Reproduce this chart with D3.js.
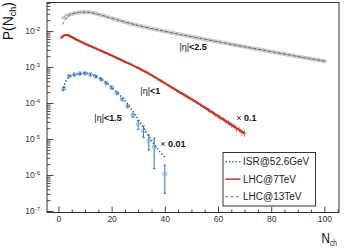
<!DOCTYPE html>
<meta charset="utf-8">
<style>
body{margin:0;background:#fff}
svg{display:block;font-family:"Liberation Sans",Arial,Helvetica,sans-serif}
</style>
<svg width="344" height="249"></svg>
<script src="https://d3js.org/d3.v7.min.js"></script>
<script>
// tick values
const xTicks = [0, 20, 40, 60, 80, 100];
const yTicks = [1e-7, 1e-6, 1e-5, 1e-4, 1e-3, 1e-2];
const legendLabels = ["ISR@52.6GeV", "LHC@7TeV", "LHC@13TeV"];

// ISR @ 52.6 GeV, |eta|<1.5, scaled x 0.01
const isrN = [2, 4, 6, 8, 10, 12, 14, 16, 18, 20, 22, 24, 26, 28, 30, 32, 34, 36, 40];
const isrP = [2.54e-4, 5.58e-4, 6.14e-4, 6.55e-4, 6.64e-4, 6.22e-4, 5.47e-4, 4.54e-4, 3.56e-4, 2.67e-4,
              1.88e-4, 1.28e-4, 8.15e-5, 4.57e-5, 2.56e-5, 1.69e-5, 8.9e-6, 6.0e-6, 1.09e-6];
const isrErr = [1.5e-5, 3e-5, 3e-5, 3e-5, 3e-5, 3e-5, 2.5e-5, 2e-5, 2e-5, 1.5e-5,
                1.2e-5, 9e-6, 7e-6, 5e-6, 7e-6, 6e-6, 4e-6, 4.5e-6, 7.8e-7];
const isrFitN = [1.5, 3, 6, 10, 14, 18, 22, 26, 30, 34, 38, 40];
const isrFitP = [2.13e-4, 4.31e-4, 6.14e-4, 6.76e-4, 5.58e-4, 3.67e-4, 2.0e-4, 9.27e-5, 3.54e-5, 1.19e-5, 4.54e-6, 3.09e-6];

// LHC @ 7 TeV, |eta|<1, scaled x 0.1
const lhc7N = [1, 2, 3, 4, 5, 6, 7, 8, 9, 10, 11, 12, 13, 14, 15, 16, 17, 18, 19, 20,
               21, 22, 23, 24, 25, 26, 27, 28, 29, 30, 31, 32, 33, 34, 35, 36, 37, 38, 39, 40,
               41, 42, 43, 44, 45, 46, 47, 48, 49, 50, 51, 52, 53, 54, 55, 56, 57, 58, 59, 60,
               61, 62, 63, 64, 65, 66, 67, 68, 69, 70];
const lhc7P = [6.38e-3, 7.45e-3, 7.79e-3, 7.45e-3, 6.81e-3, 6.18e-3, 5.65e-3, 5.20e-3, 4.81e-3, 4.46e-3,
               4.13e-3, 3.82e-3, 3.56e-3, 3.30e-3, 3.07e-3, 2.84e-3, 2.63e-3, 2.44e-3, 2.26e-3, 2.09e-3,
               1.94e-3, 1.79e-3, 1.66e-3, 1.54e-3, 1.41e-3, 1.30e-3, 1.20e-3, 1.11e-3, 1.02e-3, 9.38e-4,
               8.57e-4, 7.83e-4, 7.16e-4, 6.55e-4, 5.95e-4, 5.37e-4, 4.85e-4, 4.37e-4, 3.95e-4, 3.56e-4,
               3.21e-4, 2.90e-4, 2.62e-4, 2.36e-4, 2.13e-4, 1.92e-4, 1.74e-4, 1.57e-4, 1.41e-4, 1.28e-4,
               1.16e-4, 1.03e-4, 9.4e-5, 8.2e-5, 7.6e-5, 6.9e-5, 5.8e-5, 5.6e-5, 4.6e-5, 4.5e-5,
               3.7e-5, 3.6e-5, 3.0e-5, 2.9e-5, 2.4e-5, 2.35e-5, 1.9e-5, 1.85e-5, 1.55e-5, 1.45e-5];
const lhc7Err = [0.02, 0.02, 0.02, 0.02, 0.02, 0.02, 0.02, 0.02, 0.02, 0.02,
                 0.02, 0.02, 0.02, 0.02, 0.02, 0.02, 0.02, 0.02, 0.02, 0.02,
                 0.02, 0.02, 0.02, 0.02, 0.02, 0.02, 0.02, 0.02, 0.02, 0.02,
                 0.025, 0.025, 0.025, 0.025, 0.03, 0.03, 0.03, 0.03, 0.03, 0.035,
                 0.035, 0.04, 0.04, 0.04, 0.045, 0.045, 0.05, 0.05, 0.055, 0.06,
                 0.06, 0.065, 0.07, 0.075, 0.08, 0.085, 0.09, 0.095, 0.1, 0.11,
                 0.12, 0.13, 0.14, 0.15, 0.16, 0.17, 0.18, 0.19, 0.2, 0.22];
const lhc7FitN = [1, 2, 3, 5, 8, 12, 16, 20, 25, 30, 35, 40, 45, 50, 55, 60, 65, 70];
const lhc7FitP = [6.38e-3, 7.45e-3, 7.79e-3, 6.81e-3, 5.20e-3, 3.82e-3, 2.84e-3, 2.09e-3, 1.41e-3, 9.38e-4,
                  5.95e-4, 3.56e-4, 2.13e-4, 1.28e-4, 7.50e-5, 4.35e-5, 2.52e-5, 1.42e-5];

// LHC @ 13 TeV, |eta|<2.5
const lhc13N = [2, 3, 4, 5, 6, 7, 8, 9, 10, 11, 12, 13, 14, 15, 16, 17, 18, 19, 20,
                21, 22, 23, 24, 25, 26, 27, 28, 29, 30, 31, 32, 33, 34, 35, 36, 37, 38, 39, 40,
                41, 42, 43, 44, 45, 46, 47, 48, 49, 50, 51, 52, 53, 54, 55, 56, 57, 58, 59, 60,
                61, 62, 63, 64, 65, 66, 67, 68, 69, 70, 71, 72, 73, 74, 75, 76, 77, 78, 79, 80,
                81, 82, 83, 84, 85, 86, 87, 88, 89, 90, 91, 92, 93, 94, 95, 96, 97, 98, 99, 100];
const lhc13P = [0.0235, 0.0265, 0.0282, 0.0298, 0.0311, 0.0321, 0.0330, 0.0334, 0.0336, 0.0334,
                0.0328, 0.0317, 0.0304, 0.0291, 0.0279, 0.0265, 0.0252, 0.0239, 0.0227,
                0.0216, 0.0205, 0.0195, 0.0186, 0.0178, 0.0170, 0.0163, 0.0156, 0.0149, 0.0142,
                0.0137, 0.0132, 0.0127, 0.0122, 0.0117, 0.0113, 0.0109, 0.0105, 0.0102, 0.00981,
                0.00950, 0.00914, 0.00885, 0.00852, 0.00825, 0.00800, 0.00769, 0.00745, 0.00721, 0.00698,
                0.00676, 0.00655, 0.00630, 0.00610, 0.00591, 0.00573, 0.00555, 0.00537, 0.00520, 0.00504,
                0.00488, 0.00472, 0.00457, 0.00443, 0.00429, 0.00415, 0.00402, 0.00390, 0.00377, 0.00365,
                0.00354, 0.00343, 0.00332, 0.00321, 0.00311, 0.00303, 0.00294, 0.00284, 0.00275, 0.00267,
                0.00258, 0.00250, 0.00244, 0.00236, 0.00229, 0.00221, 0.00214, 0.00209, 0.00202, 0.00196,
                0.00190, 0.00185, 0.00179, 0.00174, 0.00169, 0.00164, 0.00160, 0.00155, 0.00151, 0.00146];
const lhc13Err = [0.01, 0.01, 0.01, 0.01, 0.01, 0.01, 0.01, 0.01, 0.01, 0.01,
                  0.01, 0.01, 0.01, 0.01, 0.01, 0.01, 0.01, 0.01, 0.01,
                  0.01, 0.01, 0.01, 0.01, 0.01, 0.01, 0.01, 0.01, 0.01, 0.01,
                  0.01, 0.01, 0.01, 0.01, 0.01, 0.01, 0.01, 0.01, 0.01, 0.01,
                  0.01, 0.01, 0.01, 0.01, 0.01, 0.01, 0.01, 0.01, 0.01, 0.01,
                  0.012, 0.012, 0.012, 0.012, 0.012, 0.012, 0.012, 0.012, 0.012, 0.012,
                  0.015, 0.015, 0.015, 0.015, 0.015, 0.015, 0.015, 0.015, 0.015, 0.015,
                  0.018, 0.018, 0.018, 0.018, 0.02, 0.02, 0.02, 0.02, 0.022, 0.022,
                  0.025, 0.025, 0.025, 0.028, 0.028, 0.03, 0.03, 0.032, 0.032, 0.035,
                  0.035, 0.038, 0.038, 0.04, 0.04, 0.042, 0.045, 0.045, 0.048, 0.05];
const lhc13FitN = [1.5, 2.5, 3.5, 5, 8, 10, 12, 15, 20, 30, 40, 50, 60, 70, 80, 90, 100];
const lhc13FitP = [0.0153, 0.0200, 0.0250, 0.0298, 0.0330, 0.0336, 0.0328, 0.0291, 0.0227, 0.0142,
                   0.00981, 0.00698, 0.00504, 0.00365, 0.00267, 0.00196, 0.00146];

// text annotations [N, P, main, bold part]
const notes = [
  [45.5, 2.96e-3, "|η|", "<2.5"],
  [30.8, 1.77e-4, "|η|", "<1"],
  [13.5, 3.13e-5, "|η|", "<1.5"],
  [66.9, 3.13e-5, "× ", "0.1"],
  [38.3, 5.9e-6, "× ", "0.01"]
];

const svg = d3.select("svg");
const L = 47, R = 339, T = 2.5, B = 212.5;
const x = d3.scaleLinear().domain([-4.3, 105.5]).range([L, R]);
const y = d3.scaleLog().domain([Math.pow(10, -7.042), Math.pow(10, -1.207)]).range([B, T]);

const blue = "#2f6fa8", blueLight = "#86b3dc";
const red = "#c0392b", redLight = "#e07b74";
const grey = "#6e6e6e", greyLight = "#b9b9b9";

// axes
const minorX = [];
for (let v = 0; v <= 105; v += 5) if (xTicks.indexOf(v) < 0) minorX.push(v);
const minorY = [];
for (let k = -8; k <= -2; k++) for (let m = 2; m <= 9; m++) {
  const v = m * Math.pow(10, k);
  if (v > y.domain()[0] && v < y.domain()[1]) minorY.push(v);
}

const gx = svg.append("g").attr("transform", `translate(0,${B})`);
gx.call(d3.axisBottom(x).tickValues(xTicks).tickSize(-6).tickPadding(3));
const gxm = svg.append("g").attr("transform", `translate(0,${B})`);
gxm.call(d3.axisBottom(x).tickValues(minorX).tickSize(-3).tickFormat(""));
const gy = svg.append("g").attr("transform", `translate(${L},0)`);
gy.call(d3.axisLeft(y).tickValues(yTicks).tickSize(-6.5).tickPadding(7).tickFormat(""));
const gym = svg.append("g").attr("transform", `translate(${L},0)`);
gym.call(d3.axisLeft(y).tickValues(minorY).tickSize(-3.5).tickFormat(""));

svg.selectAll(".domain").remove();
svg.selectAll(".tick line").attr("stroke", "#333").attr("stroke-width", 0.9);
gx.selectAll("text").attr("font-size", 8.5).attr("fill", "#333").attr("font-family", null);

gy.selectAll(".tick text").each(function(d) {
  const t = d3.select(this).attr("font-size", 8.5).attr("fill", "#333").attr("font-family", null);
  t.append("tspan").text("10");
  t.append("tspan").attr("dy", "-0.5em").attr("font-size", 6).text("-" + Math.round(-Math.log10(d)));
});

svg.append("rect").attr("x", L).attr("y", T).attr("width", R - L).attr("height", B - T)
  .attr("fill", "none").attr("stroke", "#333").attr("stroke-width", 1);

const plot = svg.append("g");

function errBars(ns, ps, errs, rel, color, cap, hw) {
  ns.forEach((n, i) => {
    const p = ps[i];
    const e = rel ? p * errs[i] : errs[i];
    const hi = p + e, lo = Math.max(p - e, y.domain()[0]);
    plot.append("line").attr("x1", x(n)).attr("x2", x(n)).attr("y1", y(hi)).attr("y2", y(lo))
      .attr("stroke", color).attr("stroke-width", 1);
    if (cap) {
      [hi, lo].forEach(v => plot.append("line").attr("x1", x(n) - cap).attr("x2", x(n) + cap)
        .attr("y1", y(v)).attr("y2", y(v)).attr("stroke", color).attr("stroke-width", 1));
    }
    if (hw) {
      plot.append("line").attr("x1", x(n - hw)).attr("x2", x(n + hw)).attr("y1", y(p)).attr("y2", y(p))
        .attr("stroke", color).attr("stroke-width", 1);
    }
  });
}

const line = d3.line().x(d => x(d[0])).y(d => y(d[1])).curve(d3.curveMonotoneX);

// LHC 13 TeV
errBars(lhc13N, lhc13P, lhc13Err, true, "#999", 0, 0.6);
plot.selectAll(".g13").data(lhc13N).join("circle")
  .attr("cx", d => x(d)).attr("cy", (d, i) => y(lhc13P[i])).attr("r", 1.7)
  .attr("fill", "none").attr("stroke", greyLight).attr("stroke-width", 0.9);
plot.append("path").attr("d", line(lhc13FitN.map((n, i) => [n, lhc13FitP[i]])))
  .attr("fill", "none").attr("stroke", grey).attr("stroke-width", 1).attr("stroke-dasharray", "3,2");

// LHC 7 TeV
errBars(lhc7N, lhc7P, lhc7Err, true, redLight, 0, 0.8);
plot.append("path").attr("d", line(lhc7FitN.map((n, i) => [n, lhc7FitP[i]])))
  .attr("fill", "none").attr("stroke", red).attr("stroke-width", 2.2);

// ISR
errBars(isrN, isrP, isrErr, false, blue, 1.2, 0);
plot.selectAll(".isr").data(isrN).join("circle")
  .attr("cx", d => x(d)).attr("cy", (d, i) => y(isrP[i])).attr("r", 2)
  .attr("fill", "none").attr("stroke", blueLight).attr("stroke-width", 1);
plot.append("path").attr("d", line(isrFitN.map((n, i) => [n, isrFitP[i]])))
  .attr("fill", "none").attr("stroke", blue).attr("stroke-width", 1.6).attr("stroke-dasharray", "1.4,2");

// annotations
notes.forEach(d => {
  const t = svg.append("text").attr("x", x(d[0])).attr("y", y(d[1])).attr("font-size", 9).attr("fill", "#111");
  t.append("tspan").text(d[2]);
  t.append("tspan").attr("font-weight", "bold").text(d[3]);
});

// legend
const lg = svg.append("g");
lg.append("rect").attr("x", 223).attr("y", 152.5).attr("width", 92.5).attr("height", 53.5)
  .attr("fill", "#fff").attr("stroke", "#333").attr("stroke-width", 1);
const lstyle = [[blue, "1.4,2", 1.6], [red, null, 1.5], [grey, "3,2", 1]];
legendLabels.forEach((lab, i) => {
  const yy = 161.7 + i * 17.5;
  lg.append("line").attr("x1", 225.5).attr("x2", 240.5).attr("y1", yy).attr("y2", yy)
    .attr("stroke", lstyle[i][0]).attr("stroke-width", lstyle[i][2])
    .attr("stroke-dasharray", lstyle[i][1]);
  lg.append("text").attr("x", 243).attr("y", yy + 3.5).attr("font-size", 10).attr("fill", "#222").text(lab);
});

// axis titles
const yt = svg.append("text").attr("transform", "translate(13,2) rotate(-90)")
  .attr("text-anchor", "end").attr("font-size", 14).attr("fill", "#111");
yt.append("tspan").text("P(N");
yt.append("tspan").attr("font-size", 9).attr("dy", 3).text("ch");
yt.append("tspan").attr("dy", -3).text(")");

const xt = svg.append("text").attr("transform", "translate(321.5,242.5) scale(0.75,1)")
  .attr("font-size", 15.5).attr("fill", "#111");
xt.append("tspan").text("N");
xt.append("tspan").attr("font-size", 9).attr("dy", 3.5).text("ch");
</script>
